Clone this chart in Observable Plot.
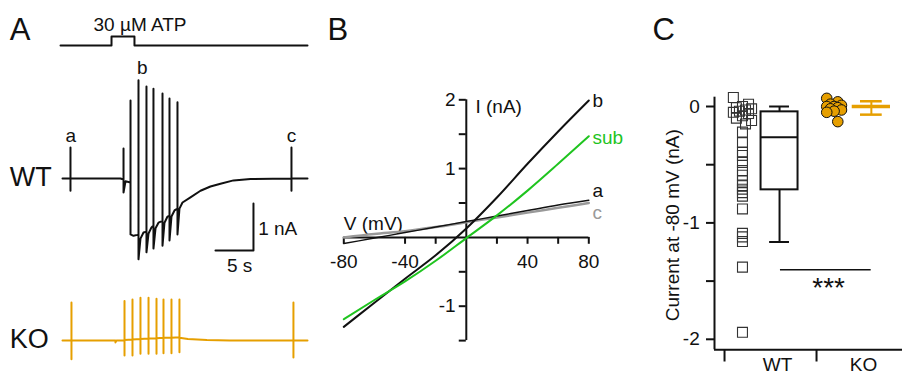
<!DOCTYPE html>
<html><head><meta charset="utf-8">
<script src="https://cdn.jsdelivr.net/npm/d3@7"></script>
<script src="https://cdn.jsdelivr.net/npm/@observablehq/plot@0.6"></script>
<style>
html,body{margin:0;padding:0;background:#fff;}
#fig{position:relative;width:902px;height:376px;overflow:hidden;}
#fig svg{position:absolute;top:0;left:0;}
</style></head><body><div id="fig"></div>
<script>
// ---------------- DATA ----------------
// Panel A: ATP application (time s, level 0/1)
const stimTrace = [[-0.26,0],[6.45,0],[6.45,1],[9.47,1],[9.47,0],[32.24,0]];
// Panel A: WT whole-cell current (time s, current nA relative to holding)
const wtTrace = [
 [0,0],[1.05,0],[1.05,0.66],[1.05,-0.26],[1.05,0],[7.63,0],
 [8.03,-0.02],[8.03,0.64],[8.03,-0.30],[8.29,-0.06],[8.82,-0.08],
 [8.95,-0.08],[8.95,1.66],[8.95,-1.19],[9.34,-1.22],[9.87,-1.20],
 [10.0,-1.19],[10.0,2.09],[10.0,-1.72],[10.26,-1.28],[10.66,-1.15],
 [11.05,-1.13],[11.05,1.96],[11.05,-1.57],[11.32,-1.17],[11.71,-1.04],
 [11.97,-1.0],[11.97,1.91],[11.97,-1.49],[12.24,-1.06],[12.63,-0.94],
 [13.16,-0.9],[13.16,1.81],[13.16,-1.43],[13.42,-0.94],[13.82,-0.81],
 [14.08,-0.79],[14.08,1.70],[14.08,-1.32],[14.34,-0.81],[14.74,-0.68],
 [15.13,-0.64],[15.13,1.62],[15.13,-1.19],[15.39,-0.64],[15.79,-0.51],
 [16.84,-0.40],[18.16,-0.26],[19.47,-0.17],[20.79,-0.11],[22.5,-0.04],[24.74,-0.01],
 [30.13,0],[30.13,0.66],[30.13,-0.26],[30.13,0],[32.24,0]
];
// Panel A: KO whole-cell current
const koTrace = [
 [0,0],[1.18,0],[1.18,0.81],[1.18,-0.40],[1.18,0],[6.97,0],[6.97,-0.04],[7.1,0],[8.16,0],
 [8.16,0.84],[8.16,-0.32],[8.16,0.01],[9.21,0.02],[9.21,0.87],[9.21,-0.32],[9.21,0.02],
 [10.26,0.03],[10.26,0.91],[10.26,-0.28],[10.26,0.03],[11.32,0.04],[11.32,0.91],[11.32,-0.28],[11.32,0.04],
 [12.37,0.05],[12.37,0.89],[12.37,-0.28],[12.37,0.05],[13.29,0.06],[13.29,0.87],[13.29,-0.27],[13.29,0.06],
 [14.34,0.06],[14.34,0.87],[14.34,-0.27],[14.34,0.06],[15.39,0.07],[15.39,0.87],[15.39,-0.25],[15.39,0.06],
 [16.5,0.03],[19,0.01],[22,0],[30.39,0],[30.39,0.81],[30.39,-0.36],[30.39,0],[32.24,0]
];
const scaleBarSeconds = 5, scaleBarNA = 1;

// Panel B: I-V curves (mV, nA)
const ivV   = [-80,-60,-40,-20,0,20,40,60,80];
const ivA   = [-0.09,-0.01,0.07,0.15,0.23,0.31,0.39,0.47,0.54];
const ivB   = [-1.30,-0.95,-0.60,-0.26,0.13,0.58,1.07,1.54,1.99];
const ivC   = [0.0,0.05,0.09,0.15,0.22,0.29,0.36,0.43,0.50];
const ivSub = [-1.19,-0.91,-0.64,-0.34,-0.01,0.32,0.68,1.07,1.47];
const bXTicks = [-80,-40,-20,20,40,60,80];
const bXLabels = [-80,-40,40,80];
const bYTicks = [2,1.5,1,0.5,-0.5,-1,-1.5];
const bYLabels = [2,1,-1];

// Panel C: current at -80 mV (nA)
const wtVals = [0.077,0.02,0.0,-0.01,-0.02,-0.03,-0.04,-0.05,-0.06,-0.08,-0.10,-0.12,-0.15,
  -0.22,-0.31,-0.39,-0.42,-0.48,-0.55,-0.59,-0.64,-0.68,-0.71,-0.74,-0.77,-0.88,-1.09,-1.12,-1.16,-1.38,-1.94];
const koVals = [0.07,0.04,0.02,0.01,0.0,0.0,-0.01,-0.02,-0.03,-0.04,-0.05,-0.13];
const wtBox = {whiskerHigh:0, q3:-0.046, median:-0.265, q1:-0.716, whiskerLow:-1.164};
const koMean = 0.0, koErrHigh = 0.045, koErrLow = -0.07;
const cYTicks = [0,-0.5,-1,-1.5,-2];
const cYLabels = [0,-1,-2];
const groups = ["WT","KO"];

// ---------------- DRAW ----------------
const FONT = "'Liberation Sans', Arial, Helvetica, sans-serif";
const ORANGE = "#E69F00", GREEN = "#1FC41F";
const fig = document.getElementById("fig");
const base = {width:902, height:376, marginTop:0, marginRight:0, marginBottom:0, marginLeft:0,
  style:{background:"transparent", fontFamily:FONT, overflow:"visible"}};
function add(opts){ fig.appendChild(Plot.plot({...base, ...opts})); }

// Time axis shared in panel A
const tScale = {domain:[0,32.24], range:[62,307], axis:null};

// Stimulus
add({
  x: tScale, y:{domain:[0,1], range:[45,36], axis:null},
  marks:[
    Plot.line(stimTrace,{x:d=>d[0], y:d=>d[1], stroke:"#111", strokeWidth:2, curve:"linear"}),
    Plot.text(["30 µM ATP"],{x:10.2, y:2.3, text:d=>d, fontSize:19, fill:"#111"}),
    Plot.text(["A"],{x:-6.95, y:1.75, text:d=>d, fontSize:31, textAnchor:"start", fill:"#111"})
  ]
});

// WT trace
add({
  x: tScale, y:{domain:[0,1], range:[178,131], axis:null},
  marks:[
    Plot.line(wtTrace,{x:d=>d[0], y:d=>d[1], stroke:"#111", strokeWidth:2, curve:"linear"}),
    Plot.text(["WT"],{x:-6.95, y:0.02, text:d=>d, fontSize:27, textAnchor:"start", fill:"#111"}),
    Plot.text([["a",1.1,0.9],["b",10.5,2.35],["c",30.13,0.9]],{x:d=>d[1], y:d=>d[2], text:d=>d[0], fontSize:19, fill:"#111"}),
    // scale bars
    Plot.line([[25.13-scaleBarSeconds,-1.53],[25.13,-1.53],[25.13,-1.53+scaleBarNA]],{x:d=>d[0], y:d=>d[1], stroke:"#111", strokeWidth:2}),
    Plot.text([scaleBarNA+" nA"],{x:25.75, y:-1.07, text:d=>d, fontSize:19, textAnchor:"start", fill:"#111"}),
    Plot.text([scaleBarSeconds+" s"],{x:23.3, y:-1.86, text:d=>d, fontSize:19, fill:"#111"})
  ]
});

// KO trace
add({
  x: tScale, y:{domain:[0,1], range:[340,293], axis:null},
  marks:[
    Plot.line(koTrace,{x:d=>d[0], y:d=>d[1], stroke:ORANGE, strokeWidth:2, curve:"linear"}),
    Plot.text(["KO"],{x:-6.95, y:0.03, text:d=>d, fontSize:27, textAnchor:"start", fill:"#111"})
  ]
});

// Panel B
const ivRows = ivV.map((v,i)=>({v, a:ivA[i], b:ivB[i], c:ivC[i], sub:ivSub[i]}));
add({
  x:{domain:[-80,80], range:[343.3,588.3], axis:null},
  y:{domain:[-1,2], range:[305.7,99.3], axis:null},
  marks:[
    Plot.ruleY([0],{x1:-80, x2:80, stroke:"#111", strokeWidth:2}),
    Plot.ruleX([0],{y1:-1.5, y2:2, stroke:"#111", strokeWidth:2}),
    Plot.ruleX(bXTicks,{x:d=>d, y1:0, y2:-0.1, stroke:"#111", strokeWidth:2}),
    Plot.ruleY(bYTicks,{y:d=>d, x1:0, x2:-4.6, stroke:"#111", strokeWidth:2}),
    Plot.text(bXLabels,{x:d=>d, y:-0.35, text:d=>String(d), fontSize:19, fill:"#111"}),
    Plot.text(bYLabels,{x:-7, y:d=>d, text:d=>String(d), fontSize:19, textAnchor:"end", fill:"#111"}),
    Plot.text(["I (nA)"],{x:6, y:1.9, text:d=>d, fontSize:19, textAnchor:"start", fill:"#111"}),
    Plot.text(["V (mV)"],{x:-80, y:0.19, text:d=>d, fontSize:19, textAnchor:"start", fill:"#111"}),
    Plot.line(ivRows,{x:"v", y:"c", stroke:"#999", strokeWidth:2.5, curve:"monotone-x"}),
    Plot.line(ivRows,{x:"v", y:"a", stroke:"#111", strokeWidth:1.5, curve:"monotone-x"}),
    Plot.line(ivRows,{x:"v", y:"b", stroke:"#111", strokeWidth:2, curve:"monotone-x"}),
    Plot.line(ivRows,{x:"v", y:"sub", stroke:GREEN, strokeWidth:2, curve:"monotone-x"}),
    Plot.text([["b",1.98,"#111"],["sub",1.44,GREEN],["a",0.67,"#111"],["c",0.35,"#999"]],
      {x:82.4, y:d=>d[1], text:d=>d[0], fill:d=>d[2], fontSize:19, textAnchor:"start"}),
    Plot.text(["B"],{x:-90.6, y:3.02, text:d=>d, fontSize:31, textAnchor:"start", fill:"#111"})
  ]
});

// Panel C
const xWTpts = 0.304, xWTbox = 0.707, boxHalf = 0.201, capHalf = 0.108;
const xKOpts = 1.30, xKOmean = 1.705, meanHalf = 0.208, errCapHalf = 0.118;
const sep = [0.109, 1.109];
const wtRows = wtVals.map((v,i)=>({v, dx: v > -0.2 ? (((i*5)%7)-3)*0.033 : 0}));
const koRows = koVals.map((v,i)=>({v, dx: (((i*3)%5)-2)*0.04}));
add({
  x:{domain:[0,1], range:[714,806], axis:null},
  y:{domain:[0,-1], range:[106,222.4], axis:null},
  marks:[
    Plot.ruleX([0],{y1:0.08, y2:-2.09, stroke:"#111", strokeWidth:2}),
    Plot.ruleY([-2.09],{x1:0, x2:2.05, stroke:"#111", strokeWidth:2}),
    Plot.ruleY(cYTicks,{y:d=>d, x1:0, x2:-0.087, stroke:"#111", strokeWidth:2}),
    Plot.ruleX(sep,{x:d=>d, y1:-2.09, y2:-2.195, stroke:"#111", strokeWidth:2}),
    Plot.text(cYLabels,{x:-0.16, y:d=>d, text:d=>String(d), fontSize:19, textAnchor:"end", fill:"#111"}),
    Plot.text(["Current at -80 mV (nA)"],{x:-0.45, y:-1.02, text:d=>d, rotate:-90, fontSize:19, fill:"#111"}),
    Plot.text(groups,{x:(d,i)=>[0.685,1.62][i], y:-2.216, text:d=>d, fontSize:19, fill:"#111"}),
    Plot.text(["C"],{x:-0.674, y:0.66, text:d=>d, fontSize:31, textAnchor:"start", fill:"#111"}),
    // WT individual points
    Plot.dot(wtRows,{x:d=>xWTpts+d.dx, y:"v", symbol:"square", r:5.6, stroke:"#333", strokeWidth:1.1, fill:"none"}),
    // WT box plot
    Plot.ruleX([xWTbox],{y1:wtBox.q3, y2:wtBox.whiskerHigh, stroke:"#111", strokeWidth:2}),
    Plot.ruleX([xWTbox],{y1:wtBox.q1, y2:wtBox.whiskerLow, stroke:"#111", strokeWidth:2}),
    Plot.ruleY([wtBox.whiskerHigh, wtBox.whiskerLow],{y:d=>d, x1:xWTbox-capHalf, x2:xWTbox+capHalf, stroke:"#111", strokeWidth:2}),
    Plot.rect([wtBox],{x1:xWTbox-boxHalf, x2:xWTbox+boxHalf, y1:"q1", y2:"q3", fill:"white", stroke:"#111", strokeWidth:2}),
    Plot.ruleY([wtBox.median],{x1:xWTbox-boxHalf, x2:xWTbox+boxHalf, stroke:"#111", strokeWidth:2}),
    // KO points
    Plot.dot(koRows,{x:d=>xKOpts+d.dx, y:"v", r:5.3, fill:ORANGE, stroke:"#111", strokeWidth:1}),
    // KO mean ± error
    Plot.ruleX([xKOmean],{y1:koErrLow, y2:koErrHigh, stroke:ORANGE, strokeWidth:2}),
    Plot.ruleY([koErrHigh, koErrLow],{y:d=>d, x1:xKOmean-errCapHalf, x2:xKOmean+errCapHalf, stroke:ORANGE, strokeWidth:2.5}),
    Plot.ruleY([koMean],{x1:xKOmean-meanHalf, x2:xKOmean+meanHalf, stroke:ORANGE, strokeWidth:3.5}),
    // significance
    Plot.ruleY([-1.403],{x1:0.717, x2:1.703, stroke:"#111", strokeWidth:1.5}),
    Plot.text(["***"],{x:1.24, y:-1.56, text:d=>d, fontSize:28, fill:"#111"})
  ]
});
</script></body></html>
